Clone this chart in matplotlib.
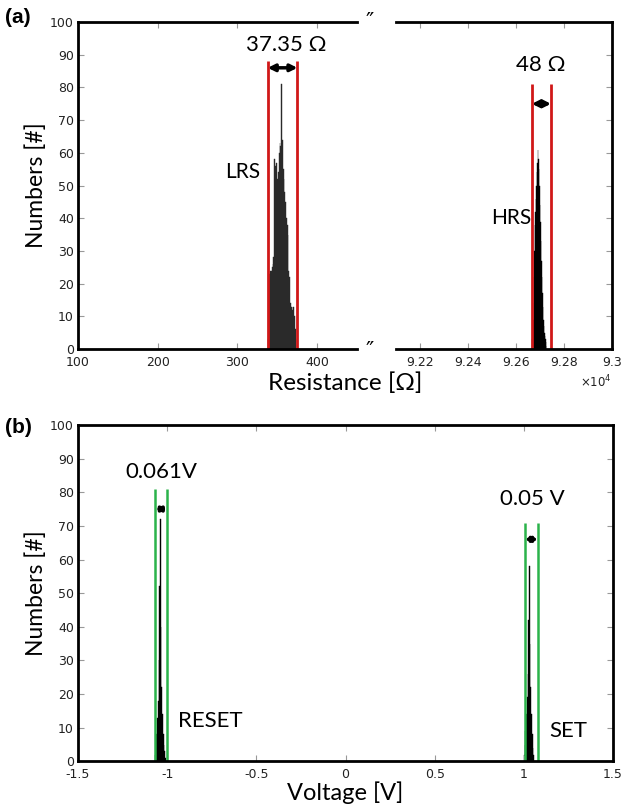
import matplotlib
matplotlib.use("Agg")
import matplotlib.pyplot as plt

# (a) resistance histograms
lrs_ohm = [338.5, 339.5, 340.5, 341.5, 342.5, 343.5, 344.5, 345.5, 346.5, 347.5,
           348.5, 349.5, 350.5, 351.5, 352.5, 353.5, 354.5, 355.5, 356.5, 357.5,
           358.5, 359.5, 360.5, 361.5, 362.5, 363.5, 364.5, 365.5, 366.5, 367.5,
           368.5, 369.5, 370.5, 371.5, 372.5, 373.5]
lrs_cnt = [3, 6, 23, 24, 24, 25, 26, 28, 58, 56,
           55, 57, 52, 54, 60, 63, 62, 81, 64, 55,
           52, 48, 45, 40, 38, 35, 24, 22, 14, 13,
           13, 12, 13, 10, 6, 3]
hrs_ohm = [92668, 92670, 92672, 92674, 92676, 92678, 92680, 92682, 92684, 92686,
           92688, 92690, 92692, 92694, 92696, 92698, 92700, 92702, 92704, 92706,
           92708, 92710, 92712, 92714, 92716, 92718, 92720, 92722, 92724, 92726]
hrs_cnt = [3, 5, 9, 14, 22, 30, 38, 42, 46, 50,
           54, 57, 61, 58, 55, 50, 44, 39, 33, 27,
           22, 17, 13, 9, 7, 5, 4, 3, 2, 1]
lrs_window = [338.0, 375.35]
hrs_window = [92666, 92746]

# (b) voltage histograms
reset_v = [-1.066, -1.062, -1.058, -1.054, -1.050, -1.046, -1.042, -1.038,
           -1.034, -1.030, -1.026, -1.022, -1.018, -1.014, -1.010]
reset_cnt = [2, 4, 8, 13, 18, 30, 52, 72, 40, 22, 14, 8, 5, 3, 1]
set_v = [1.003, 1.007, 1.011, 1.015, 1.019, 1.023, 1.027, 1.031,
         1.035, 1.039, 1.043, 1.047, 1.051, 1.055]
set_cnt = [2, 5, 9, 14, 19, 26, 42, 58, 35, 22, 14, 8, 4, 2]
reset_window = [-1.066, -1.0]
set_window = [1.005, 1.08]

ANN = ["Lato", "DejaVu Sans"]
RED = "#d01818"
GREEN = "#2bb34a"
TICKC = "#999999"

fig = plt.figure(figsize=(6.25, 8.1), dpi=100)
ax1 = fig.add_axes([0.1248, 0.5691, 0.4464, 0.4037])
ax2 = fig.add_axes([0.6336, 0.5691, 0.3456, 0.4037])
ax3 = fig.add_axes([0.1248, 0.06, 0.856, 0.4154])


def style(ax):
    for s in ax.spines.values():
        s.set_linewidth(2)
    ax.tick_params(direction="in", length=4, width=0.8, color=TICKC,
                   labelsize=9, labelcolor="#222222", pad=3,
                   top=True, right=True)
    ax.tick_params(axis="x", pad=5)
    ax.set_ylim(0, 100)
    ax.set_yticks(range(0, 101, 10))


style(ax1)
style(ax2)
style(ax3)

# left part of broken axis
ax1.bar(lrs_ohm, lrs_cnt, width=1.0, color="#2a2a2a", edgecolor="#2a2a2a", lw=0.3)
ax1.set_xlim(100, 450)
ax1.set_xticks([100, 200, 300, 400])
ax1.spines["right"].set_visible(False)
ax1.tick_params(right=False)
ax1.vlines(lrs_window, 0, 88, color=RED, lw=2)
ax1.annotate("", xy=(lrs_window[0], 86), xytext=(lrs_window[1], 86),
             arrowprops=dict(arrowstyle="<|-|>", color="k", lw=2.5,
                             mutation_scale=10, shrinkA=0, shrinkB=0))
ax1.text(361, 93, "37.35 Ω", ha="center", va="center", fontsize=16, family=ANN)
ax1.text(306, 54, "LRS", ha="center", va="center", fontsize=15, family=ANN)
ax1.set_ylabel("Numbers [#]", fontsize=16.5, family=ANN, labelpad=2)

# right part of broken axis
ax2.bar(hrs_ohm, hrs_cnt, width=2.0, color="black", edgecolor="black", lw=0.3)
ax2.set_xlim(92100, 93000)
ax2.set_xticks([92200, 92400, 92600, 92800, 93000])
ax2.xaxis.set_major_formatter(plt.FuncFormatter(lambda v, p: f"{v / 1e4:g}"))
ax2.spines["left"].set_visible(False)
ax2.tick_params(left=False, labelleft=False)
ax2.vlines(hrs_window, 0, 81, color=RED, lw=2)
ax2.annotate("", xy=(hrs_window[0], 75), xytext=(hrs_window[1], 75),
             arrowprops=dict(arrowstyle="<|-|>", color="k", lw=2.5,
                             mutation_scale=10, shrinkA=0, shrinkB=0))
ax2.text(92705, 87, "48 Ω", ha="center", va="center", fontsize=16, family=ANN)
ax2.text(92580, 40, "HRS", ha="center", va="center", fontsize=15, family=ANN)
ax2.text(1.0, -0.1, r"$\times10^{4}$", transform=ax2.transAxes,
         ha="right", va="center", fontsize=8.5, color="#222222")

# break marks
for yb in (0.973, 0.567):
    fig.text(0.592, yb, "″", ha="center", va="center", fontsize=16)

fig.text(0.552, 0.527, "Resistance [Ω]", ha="center", va="center",
         fontsize=17.5, family=ANN)

# (b)
ax3.bar(reset_v, reset_cnt, width=0.004, color="black", edgecolor="black", lw=0.3)
ax3.bar(set_v, set_cnt, width=0.004, color="black", edgecolor="black", lw=0.3)
ax3.set_xlim(-1.5, 1.5)
ax3.set_xticks([-1.5, -1, -0.5, 0, 0.5, 1, 1.5])
ax3.set_xticklabels(["-1.5", "-1", "-0.5", "0", "0.5", "1", "1.5"])
ax3.vlines(reset_window, 0, 81, color=GREEN, lw=1.8)
ax3.vlines(set_window, 0, 71, color=GREEN, lw=1.8)
ax3.annotate("", xy=(reset_window[0], 75), xytext=(reset_window[1], 75),
             arrowprops=dict(arrowstyle="<|-|>", color="k", lw=2.5,
                             mutation_scale=7, shrinkA=0, shrinkB=0))
ax3.annotate("", xy=(set_window[0], 66), xytext=(set_window[1], 66),
             arrowprops=dict(arrowstyle="<|-|>", color="k", lw=2.5,
                             mutation_scale=7, shrinkA=0, shrinkB=0))
ax3.text(-1.03, 86, "0.061V", ha="center", va="center", fontsize=16, family=ANN)
ax3.text(1.05, 78, "0.05 V", ha="center", va="center", fontsize=16, family=ANN)
ax3.text(-0.76, 12, "RESET", ha="center", va="center", fontsize=16, family=ANN)
ax3.text(1.25, 9, "SET", ha="center", va="center", fontsize=16, family=ANN)
ax3.set_ylabel("Numbers [#]", fontsize=16.5, family=ANN, labelpad=2)
ax3.set_xlabel("Voltage [V]", fontsize=17, family=ANN, labelpad=0)

fig.text(0.008, 0.979, "(a)", fontsize=15, fontweight="bold",
         family="Liberation Sans", va="center")
fig.text(0.008, 0.472, "(b)", fontsize=15, fontweight="bold",
         family="Liberation Sans", va="center")

fig.savefig("out.png", dpi=100)
